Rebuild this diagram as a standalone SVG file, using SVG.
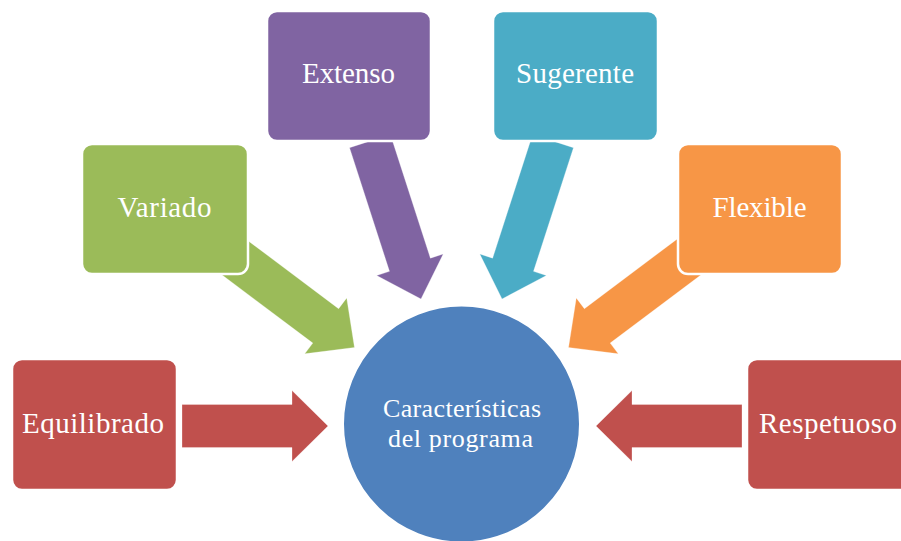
<svg xmlns="http://www.w3.org/2000/svg" width="901" height="541" viewBox="0 0 901 541">
  <style>
    .box { stroke: #ffffff; stroke-width: 2.5; }
    .arrow { stroke-width: 0.8; stroke-opacity: 0.35; stroke: #ffffff; }
    .lbl { font-family: "Liberation Serif", "DejaVu Serif", serif; font-size: 29px; fill: #ffffff; text-anchor: middle; }
    .clbl { font-family: "Liberation Serif", "DejaVu Serif", serif; font-size: 26px; fill: #ffffff; text-anchor: middle; }
  </style>
  <defs>
    <polygon id="arrowLong" points="-166,-21.5 -36,-21.5 -36,-35 0,0 -36,35 -36,21.5 -166,21.5"/>
    <polygon id="arrowShort" points="-146,-21.5 -36,-21.5 -36,-35.5 0,0 -36,35.5 -36,21.5 -146,21.5"/>
  </defs>
  <rect width="901" height="541" fill="#ffffff"/>

  <g id="connectors">
    <use id="arrow-equilibrado" href="#arrowShort" class="arrow" fill="#C0504D" transform="translate(328,426)"/>
    <use id="arrow-respetuoso" href="#arrowShort" class="arrow" fill="#C0504D" transform="translate(596,426) rotate(180)"/>
    <use id="arrow-variado" href="#arrowLong" class="arrow" fill="#9BBB59" transform="translate(354.5,347.5) rotate(36.9)"/>
    <use id="arrow-flexible" href="#arrowLong" class="arrow" fill="#F79646" transform="translate(568.5,347.5) rotate(143.1)"/>
    <use id="arrow-extenso" href="#arrowLong" class="arrow" fill="#8064A2" transform="translate(421,299) rotate(72.1)"/>
    <use id="arrow-sugerente" href="#arrowLong" class="arrow" fill="#4BACC6" transform="translate(502,299) rotate(107.9)"/>
  </g>

  <g id="node-centro">
    <circle cx="461.5" cy="424" r="118.5" fill="#4F81BD" stroke="#ffffff" stroke-width="2"/>
    <text class="clbl" x="462" y="417" textLength="158" lengthAdjust="spacing">Características</text>
    <text class="clbl" x="460.5" y="447" textLength="145" lengthAdjust="spacing">del programa</text>
  </g>

  <g id="node-equilibrado">
    <rect class="box" x="12" y="359" width="165" height="131" rx="10" fill="#C0504D"/>
    <text class="lbl" x="93" y="433" textLength="142" lengthAdjust="spacing">Equilibrado</text>
  </g>

  <g id="node-variado">
    <rect class="box" x="82" y="144" width="166" height="130" rx="10" fill="#9BBB59"/>
    <text class="lbl" x="164.5" y="217" textLength="94" lengthAdjust="spacing">Variado</text>
  </g>

  <g id="node-extenso">
    <rect class="box" x="267" y="11" width="164" height="130" rx="10" fill="#8064A2"/>
    <text class="lbl" x="348.5" y="83" textLength="93" lengthAdjust="spacing">Extenso</text>
  </g>

  <g id="node-sugerente">
    <rect class="box" x="493" y="11" width="165" height="130" rx="10" fill="#4BACC6"/>
    <text class="lbl" x="575" y="83" textLength="118" lengthAdjust="spacing">Sugerente</text>
  </g>

  <g id="node-flexible">
    <rect class="box" x="678" y="144" width="164" height="130" rx="10" fill="#F79646"/>
    <text class="lbl" x="759.5" y="217" textLength="94" lengthAdjust="spacing">Flexible</text>
  </g>

  <g id="node-respetuoso">
    <rect class="box" x="747" y="359" width="165" height="131" rx="10" fill="#C0504D"/>
    <text class="lbl" x="828" y="433" textLength="138" lengthAdjust="spacing">Respetuoso</text>
  </g>
</svg>
